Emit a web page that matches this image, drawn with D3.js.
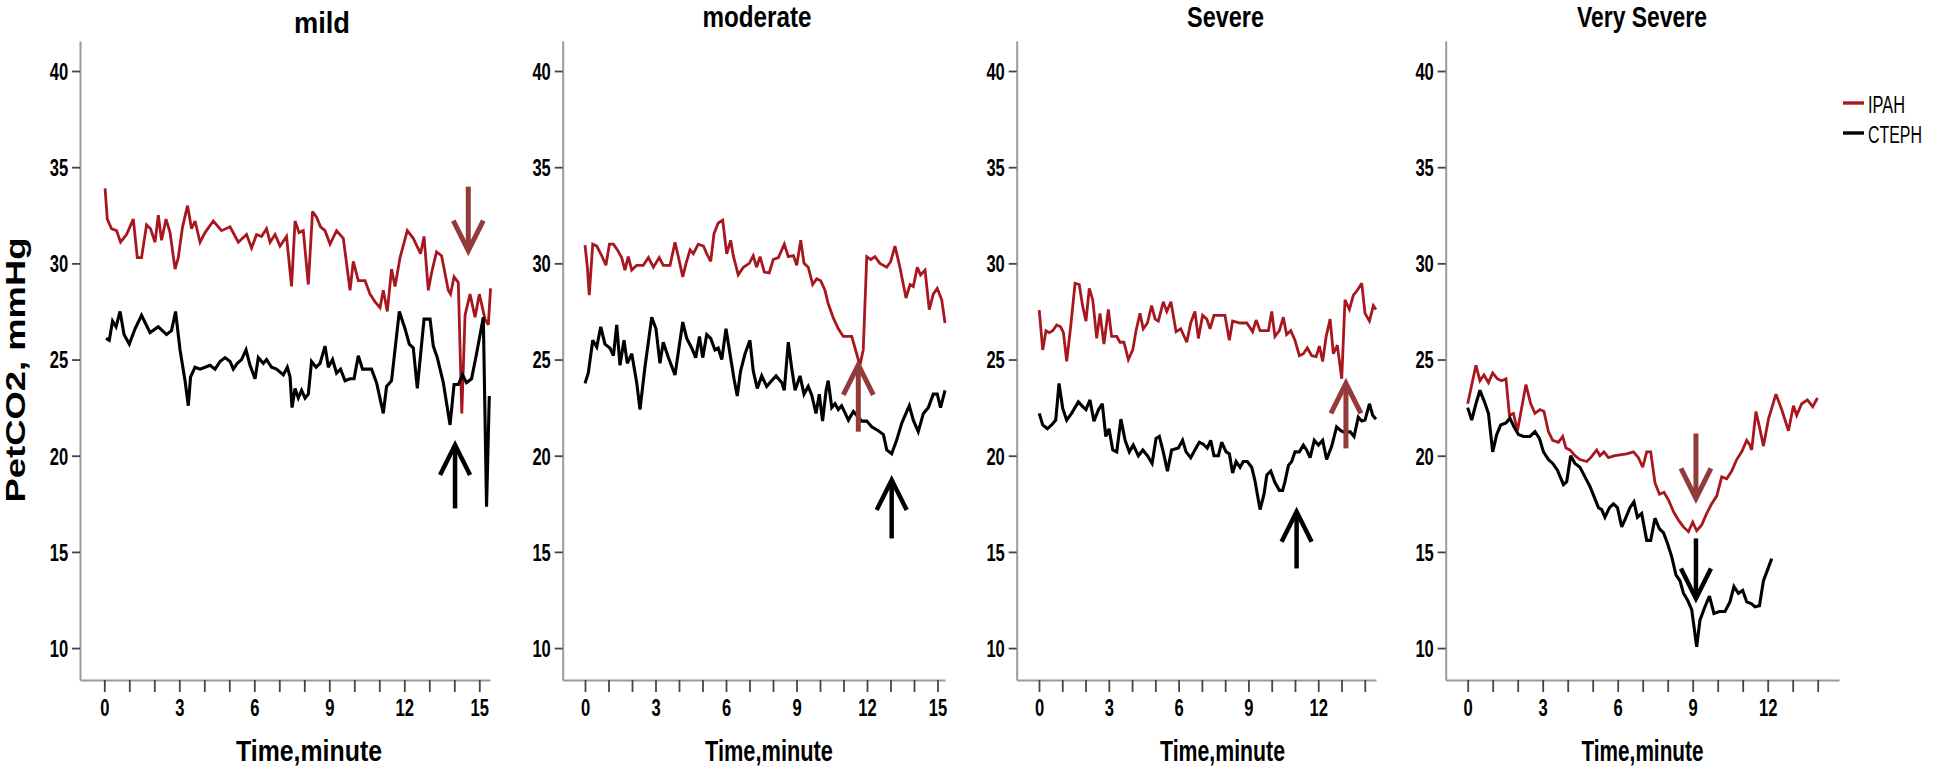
<!DOCTYPE html>
<html><head><meta charset="utf-8">
<script src="https://cdn.jsdelivr.net/npm/d3@7"></script>
<style>
body{margin:0;background:#fff}
svg{display:block;font-family:"Liberation Sans",Arial,sans-serif}
</style></head>
<body><svg id="c" width="1958" height="770"></svg>
<script>
// ---------------- data ----------------
const panelTitles = ["mild", "moderate", "Severe", "Very Severe"];
const seriesNames = ["IPAH", "CTEPH"];
const yTickValues = [10, 15, 20, 25, 30, 35, 40];
const xTickLabels = [[0,3,6,9,12,15],[0,3,6,9,12,15],[0,3,6,9,12],[0,3,6,9,12]];
const xMinorMax = [15, 15, 14, 14];

// [time (minute), PetCO2 (mmHg)]
const mildIPAH = [[0.03,33.9],[0.12,32.3],[0.29,31.8],[0.49,31.7],[0.65,31.1],[0.89,31.5],[1.16,32.3],[1.32,30.3],[1.49,30.3],[1.69,32.0],[1.85,31.8],[2.03,31.1],[2.16,32.5],[2.29,31.2],[2.47,32.3],[2.63,31.6],[2.83,29.7],[2.96,30.3],[3.13,31.9],[3.33,33.0],[3.49,31.8],[3.63,32.2],[3.83,31.1],[4.03,31.6],[4.36,32.2],[4.69,31.7],[5.03,31.9],[5.36,31.1],[5.69,31.5],[5.89,30.8],[6.09,31.5],[6.29,31.4],[6.49,31.8],[6.63,31.1],[6.83,31.5],[7.03,30.9],[7.29,31.4],[7.49,28.8],[7.63,32.2],[7.79,31.6],[7.96,31.7],[8.16,28.9],[8.33,32.7],[8.49,32.4],[8.65,31.9],[8.83,31.7],[9.03,31.0],[9.29,31.7],[9.56,31.3],[9.83,28.6],[9.96,30.1],[10.16,29.1],[10.43,29.1],[10.63,28.4],[10.83,28.0],[11.03,27.7],[11.16,28.6],[11.32,27.5],[11.49,29.7],[11.63,28.8],[11.83,30.3],[12.12,31.7],[12.36,31.3],[12.65,30.5],[12.79,31.4],[12.96,28.6],[13.09,29.5],[13.29,30.6],[13.49,30.4],[13.76,28.6],[13.85,28.4],[13.99,29.3],[14.16,29.0],[14.3,22.2],[14.43,27.3],[14.63,28.4],[14.83,27.2],[15.0,28.4],[15.23,27.1],[15.36,26.8],[15.45,28.7]];
const mildCTEPH = [[0.07,26.1],[0.2,26.0],[0.33,27.0],[0.47,26.7],[0.63,27.5],[0.79,26.3],[1.0,25.8],[1.23,26.6],[1.49,27.3],[1.83,26.4],[2.16,26.7],[2.49,26.3],[2.69,26.5],[2.85,27.5],[3.03,25.5],[3.23,23.9],[3.36,22.6],[3.45,24.1],[3.63,24.6],[3.83,24.5],[4.03,24.6],[4.23,24.7],[4.43,24.5],[4.63,24.9],[4.83,25.1],[5.03,24.9],[5.16,24.5],[5.32,24.8],[5.49,25.0],[5.67,25.5],[5.83,24.7],[6.03,24.0],[6.16,25.1],[6.36,24.8],[6.49,25.0],[6.69,24.6],[6.89,24.5],[7.16,24.2],[7.32,24.6],[7.43,24.1],[7.51,22.5],[7.63,23.5],[7.76,23.0],[7.89,23.4],[8.03,23.0],[8.16,23.2],[8.29,24.9],[8.47,24.6],[8.63,24.8],[8.83,25.7],[8.96,24.6],[9.13,25.0],[9.29,24.3],[9.45,24.5],[9.63,23.9],[9.83,24.0],[9.99,24.0],[10.16,25.2],[10.33,24.5],[10.49,24.5],[10.69,24.5],[10.89,23.8],[11.16,22.2],[11.29,23.6],[11.49,23.9],[11.8,27.5],[12.03,26.6],[12.2,25.8],[12.36,25.6],[12.52,23.5],[12.79,27.1],[13.03,27.1],[13.16,25.7],[13.32,25.1],[13.56,23.8],[13.83,21.6],[13.99,23.7],[14.16,23.7],[14.33,24.2],[14.49,23.8],[14.69,24.0],[14.89,25.3],[15.16,27.2],[15.29,17.35],[15.4,23.1]];
const moderateIPAH = [[0.0,30.95],[0.1,29.8],[0.18,28.35],[0.33,31.0],[0.5,30.9],[0.71,30.4],[0.89,29.9],[1.04,31.0],[1.21,31.0],[1.38,30.7],[1.56,30.3],[1.7,29.65],[1.84,30.35],[1.99,29.65],[2.2,29.9],[2.48,29.9],[2.7,30.3],[2.91,29.8],[3.16,30.3],[3.33,29.9],[3.62,29.9],[3.83,31.1],[3.97,30.35],[4.16,29.3],[4.3,30.0],[4.47,30.7],[4.61,30.5],[4.82,31.0],[5.04,30.9],[5.18,30.5],[5.35,30.1],[5.49,31.55],[5.67,32.1],[5.86,32.25],[6.03,30.5],[6.2,31.2],[6.31,30.4],[6.52,29.4],[6.74,29.8],[6.99,30.0],[7.16,30.4],[7.3,29.8],[7.45,30.35],[7.63,29.55],[7.84,29.5],[8.01,30.2],[8.23,30.3],[8.48,31.0],[8.65,30.35],[8.87,30.4],[9.01,29.9],[9.18,31.2],[9.32,30.0],[9.5,29.8],[9.69,28.9],[9.86,29.2],[10.03,29.1],[10.21,28.6],[10.35,27.9],[10.57,27.15],[10.78,26.6],[10.99,26.2],[11.35,26.2],[11.49,25.6],[11.7,24.7],[11.84,25.5],[11.99,30.35],[12.16,30.2],[12.34,30.35],[12.55,30.0],[12.84,29.8],[13.01,30.1],[13.19,30.9],[13.4,29.8],[13.66,28.2],[13.83,28.9],[13.97,28.8],[14.14,29.8],[14.28,29.4],[14.47,29.65],[14.65,27.6],[14.82,28.4],[14.99,28.7],[15.18,28.1],[15.32,26.9]];
const moderateCTEPH = [[0.0,23.76],[0.14,24.3],[0.33,26.0],[0.5,25.65],[0.67,26.7],[0.85,25.8],[1.06,25.6],[1.21,25.2],[1.35,26.8],[1.49,24.7],[1.66,26.0],[1.8,24.8],[1.99,25.3],[2.2,23.8],[2.34,22.4],[2.55,24.6],[2.84,27.2],[3.02,26.6],[3.19,24.8],[3.33,25.9],[3.55,25.1],[3.83,24.2],[4.16,26.95],[4.33,26.1],[4.54,25.6],[4.71,25.1],[4.87,26.2],[5.01,25.1],[5.18,26.3],[5.35,26.1],[5.53,25.5],[5.67,25.6],[5.82,25.0],[6.0,26.6],[6.17,25.3],[6.34,24.0],[6.48,23.1],[6.62,24.4],[6.81,25.3],[7.02,26.0],[7.16,24.4],[7.33,23.5],[7.52,24.15],[7.73,23.6],[7.94,23.9],[8.13,24.15],[8.37,23.8],[8.48,23.4],[8.65,25.9],[8.79,24.6],[8.94,23.4],[9.15,24.15],[9.32,23.2],[9.5,23.6],[9.65,23.15],[9.83,22.2],[9.97,23.2],[10.11,21.8],[10.26,23.4],[10.35,23.9],[10.5,22.5],[10.64,22.7],[10.78,22.4],[10.92,22.6],[11.21,21.85],[11.42,22.3],[11.77,21.8],[11.99,21.8],[12.2,21.5],[12.48,21.3],[12.7,21.1],[12.84,20.3],[13.05,20.1],[13.26,20.8],[13.48,21.7],[13.8,22.6],[13.97,21.85],[14.18,21.25],[14.4,22.2],[14.61,22.5],[14.82,23.2],[14.99,23.2],[15.13,22.5],[15.32,23.4]];
const severeIPAH = [[0.01,27.57],[0.16,25.5],[0.3,26.5],[0.44,26.4],[0.59,26.5],[0.76,26.8],[0.93,26.7],[1.05,26.4],[1.19,24.9],[1.36,26.7],[1.55,28.96],[1.73,28.9],[1.88,27.75],[2.02,27.0],[2.16,28.7],[2.31,28.1],[2.48,26.1],[2.62,27.4],[2.79,25.8],[2.98,27.6],[3.12,26.2],[3.34,26.2],[3.48,25.9],[3.65,25.9],[3.84,25.0],[4.03,25.5],[4.17,26.5],[4.34,27.4],[4.48,26.6],[4.66,26.9],[4.84,27.8],[4.99,27.1],[5.13,27.0],[5.34,28.0],[5.49,27.5],[5.67,28.0],[5.89,26.45],[6.09,26.6],[6.35,25.9],[6.52,26.9],[6.7,27.5],[6.85,26.1],[7.03,27.3],[7.21,27.1],[7.35,26.6],[7.52,27.3],[7.99,27.3],[8.18,26.0],[8.32,27.0],[8.64,26.9],[8.93,26.9],[9.18,26.45],[9.33,27.05],[9.5,26.5],[9.86,26.5],[10.0,27.5],[10.14,26.2],[10.33,26.5],[10.5,27.2],[10.64,26.3],[10.82,26.5],[11.0,26.0],[11.19,25.2],[11.36,25.3],[11.53,25.6],[11.72,25.2],[11.91,25.15],[12.05,25.7],[12.19,24.9],[12.34,26.2],[12.51,27.1],[12.65,25.3],[12.82,25.75],[13.01,24.0],[13.15,28.1],[13.34,27.6],[13.51,28.35],[13.68,28.6],[13.87,28.96],[14.01,27.4],[14.2,27.0],[14.37,27.8],[14.48,27.6]];
const severeCTEPH = [[0.01,22.2],[0.16,21.6],[0.36,21.4],[0.54,21.6],[0.72,21.85],[0.86,23.76],[1.02,22.46],[1.19,21.85],[1.4,22.2],[1.69,22.8],[1.88,22.55],[2.02,22.4],[2.19,22.9],[2.36,21.8],[2.56,22.4],[2.72,22.7],[2.87,21.0],[3.01,21.4],[3.17,20.3],[3.34,20.2],[3.52,21.9],[3.7,20.8],[3.88,20.2],[4.05,20.55],[4.27,20.0],[4.46,20.3],[4.66,20.0],[4.86,19.6],[5.03,20.9],[5.17,21.0],[5.34,20.2],[5.52,19.2],[5.7,20.3],[5.99,20.4],[6.17,20.8],[6.32,20.2],[6.52,19.9],[6.7,20.3],[6.89,20.7],[7.06,20.6],[7.23,20.4],[7.38,20.8],[7.52,20.0],[7.71,20.0],[7.85,20.7],[8.04,20.2],[8.18,20.1],[8.32,19.1],[8.47,19.7],[8.64,19.4],[8.78,19.7],[8.95,19.7],[9.14,19.4],[9.28,18.7],[9.5,17.2],[9.67,18.0],[9.79,19.0],[9.96,19.2],[10.14,18.6],[10.33,18.2],[10.47,18.2],[10.57,18.65],[10.72,19.5],[10.86,19.7],[11.0,20.2],[11.19,20.2],[11.36,20.55],[11.5,20.3],[11.65,19.9],[11.83,20.8],[12.01,20.55],[12.19,20.8],[12.36,19.8],[12.58,20.5],[12.79,21.5],[12.97,21.3],[13.15,21.2],[13.37,21.25],[13.54,21.0],[13.72,22.0],[13.87,21.8],[14.01,21.85],[14.2,22.7],[14.34,22.1],[14.48,21.9]];
const verySevereIPAH = [[0,22.7],[0.33,24.7],[0.49,23.9],[0.65,24.2],[0.83,23.8],[1.0,24.3],[1.19,24.0],[1.36,23.9],[1.53,24.0],[1.67,22.1],[1.83,22.2],[1.99,21.3],[2.33,23.7],[2.52,22.7],[2.69,22.2],[2.89,22.4],[3.05,22.3],[3.23,21.25],[3.4,20.8],[3.63,20.7],[3.8,21.0],[3.93,20.4],[4.09,20.3],[4.29,20.0],[4.49,19.8],[4.76,19.7],[4.92,19.9],[5.16,20.3],[5.29,20.0],[5.45,20.2],[5.63,19.9],[5.89,20.0],[6.36,20.1],[6.63,20.2],[6.83,19.9],[7.0,19.4],[7.16,20.2],[7.32,20.2],[7.49,18.6],[7.67,18.0],[7.85,18.1],[8.03,17.7],[8.23,17.1],[8.43,16.65],[8.63,16.3],[8.83,16.05],[9.0,16.55],[9.16,16.1],[9.36,16.4],[9.56,17.0],[9.76,17.5],[9.96,17.9],[10.16,18.9],[10.36,18.8],[10.56,19.2],[10.76,19.8],[10.96,20.2],[11.16,20.8],[11.27,20.6],[11.36,20.3],[11.53,22.3],[11.67,21.5],[11.83,20.5],[12.03,21.9],[12.33,23.2],[12.56,22.4],[12.83,21.3],[13.03,22.6],[13.16,22.1],[13.36,22.7],[13.59,22.9],[13.8,22.55],[13.99,23.0]];
const verySevereCTEPH = [[0,22.5],[0.16,21.85],[0.33,22.7],[0.49,23.4],[0.67,22.8],[0.83,22.2],[1.0,20.2],[1.16,21.1],[1.32,21.6],[1.53,21.7],[1.69,21.95],[1.85,21.5],[2.03,21.1],[2.23,21.0],[2.49,21.0],[2.69,21.25],[2.87,20.9],[3.03,20.2],[3.23,19.8],[3.4,19.6],[3.59,19.25],[3.83,18.5],[3.96,18.65],[4.12,20.0],[4.29,19.6],[4.49,19.4],[4.69,18.9],[4.89,18.4],[5.03,17.95],[5.23,17.3],[5.36,17.2],[5.49,16.8],[5.67,17.3],[5.83,17.5],[5.99,17.3],[6.16,16.3],[6.33,16.8],[6.49,17.3],[6.65,17.6],[6.79,16.8],[6.96,17.0],[7.16,15.6],[7.32,15.6],[7.49,16.75],[7.67,16.2],[7.83,16.0],[7.99,15.45],[8.16,14.75],[8.33,13.8],[8.49,13.5],[8.63,12.85],[8.79,12.5],[8.96,12.0],[9.16,10.07],[9.29,11.45],[9.49,12.15],[9.67,12.7],[9.85,11.8],[10.07,11.9],[10.29,11.9],[10.49,12.4],[10.65,13.2],[10.83,12.85],[11.0,13.0],[11.16,12.4],[11.36,12.3],[11.49,12.15],[11.67,12.2],[11.83,13.5],[11.96,13.95],[12.16,14.65]];

const ipahSeries = [mildIPAH, moderateIPAH, severeIPAH, verySevereIPAH];
const ctephSeries = [mildCTEPH, moderateCTEPH, severeCTEPH, verySevereCTEPH];

// annotation arrows: panel, time, start value, tip value, series index (0 IPAH, 1 CTEPH)
const arrowPanel = [0, 0, 1, 1, 2, 2, 3, 3];
const arrowTime  = [14.56, 14.03, 11.63, 13.05, 13.19, 11.07, 9.13, 9.13];
const arrowFrom  = [33.99, 17.26, 21.25, 15.7, 20.38, 14.14, 21.16, 15.7];
const arrowTo    = [30.66, 20.56, 24.72, 18.74, 23.76, 17.09, 17.78, 12.58];
const arrowSeries= [0, 1, 0, 1, 0, 1, 0, 1];

// ---------------- layout / style ----------------
const lineColors = ["#a8161e", "#000000"];
const arrowColors = ["#933a3a", "#000000"];
const layout = [
  {l:80,    r:490,  x0:104.3,  ppm:25,    tx:322,    ty:33, tw:56,  lx:309,    lw:146},
  {l:562.7, r:945,  x0:585,    ppm:23.5,  tx:757,    ty:27, tw:109, lx:769,    lw:128},
  {l:1016.7,r:1376, x0:1039,   ppm:23.27, tx:1225.5, ty:27, tw:77,  lx:1222.5, lw:125},
  {l:1445.7,r:1839, x0:1467.7, ppm:25,    tx:1642,   ty:27, tw:130, lx:1642.5, lw:122}
];
const plotTop = 41, plotBottom = 680;
const tickFont = '"Liberation Sans",Arial,sans-serif';

const svg = d3.select("#c");
const y = d3.scaleLinear().domain([8.34, 41.56]).range([plotBottom, plotTop]);

function squeeze(textSel, cx, cy, width, sy) {
  const len = textSel.node().getComputedTextLength();
  textSel.attr("transform", `translate(${cx},${cy}) scale(${width/len},${sy||1})`);
}

layout.forEach((L, i) => {
  const x = d3.scaleLinear()
    .domain([(L.l - L.x0)/L.ppm, (L.r - L.x0)/L.ppm])
    .range([L.l, L.r]);
  const g = svg.append("g");

  // y axis
  const ya = g.append("g").attr("transform", `translate(${L.l},0)`)
    .call(d3.axisLeft(y).tickValues(yTickValues).tickSize(8).tickSizeOuter(0).tickPadding(6));
  ya.select(".domain").attr("stroke", "#9a9a9a").attr("stroke-width", 2);
  ya.selectAll(".tick line").attr("stroke", "#444").attr("stroke-width", 1.8);
  ya.selectAll(".tick text").attr("font-size", 23).attr("fill", "#000").attr("font-weight", "bold")
    .attr("font-family", tickFont)
    .attr("transform", "scale(0.72,1)").attr("x", -16.5).attr("dy", "0.36em");

  // x axis
  const labs = xTickLabels[i];
  const xa = g.append("g").attr("transform", `translate(0,${plotBottom})`)
    .call(d3.axisBottom(x).tickValues(d3.range(0, xMinorMax[i] + 1)).tickSize(12).tickSizeOuter(0)
      .tickPadding(8).tickFormat(d => labs.includes(d) ? d : ""));
  xa.select(".domain").attr("stroke", "#9a9a9a").attr("stroke-width", 2);
  xa.selectAll(".tick line").attr("stroke", "#444").attr("stroke-width", 1.8);
  xa.selectAll(".tick text").attr("font-size", 23).attr("fill", "#000").attr("font-weight", "bold")
    .attr("font-family", tickFont)
    .attr("transform", "scale(0.72,1)");

  // lines
  const line = d3.line().x(d => x(d[0])).y(d => y(d[1]));
  [ipahSeries[i], ctephSeries[i]].forEach((s, k) => {
    g.append("path").attr("d", line(s)).attr("fill", "none")
      .attr("stroke", lineColors[k]).attr("stroke-width", k === 0 ? 2.8 : 3.1)
      .attr("stroke-linejoin", "miter").attr("stroke-miterlimit", 3);
  });

  // arrows
  arrowPanel.forEach((p, a) => {
    if (p !== i) return;
    const ax = x(arrowTime[a]), y0 = y(arrowFrom[a]), y1 = y(arrowTo[a]);
    const dir = y1 < y0 ? 1 : -1;
    const col = arrowColors[arrowSeries[a]];
    const sw = arrowSeries[a] === 0 ? 5 : 4.5;
    g.append("line").attr("x1", ax).attr("x2", ax).attr("y1", y0).attr("y2", y1 + dir*2)
      .attr("stroke", col).attr("stroke-width", sw);
    g.append("path")
      .attr("d", `M${ax-15},${y1 + dir*30} L${ax},${y1} L${ax+15},${y1 + dir*30}`)
      .attr("fill", "none").attr("stroke", col).attr("stroke-width", sw)
      .attr("stroke-linejoin", "miter");
  });

  // title
  const t = g.append("text").attr("text-anchor", "middle").attr("font-size", 30)
    .attr("font-weight", "bold").attr("fill", "#000").text(panelTitles[i]);
  squeeze(t, L.tx, L.ty, L.tw);

  // x label
  const xl = g.append("text").attr("text-anchor", "middle").attr("font-size", 30)
    .attr("font-weight", "bold").attr("fill", "#000").text("Time,minute");
  squeeze(xl, L.lx, 761, L.lw);
});

// y label
const yl = svg.append("text").attr("text-anchor", "middle").attr("font-size", 36)
  .attr("font-weight", "bold").attr("fill", "#000").text("PetCO2, mmHg");
{
  const len = yl.node().getComputedTextLength();
  yl.attr("transform", `translate(25,370) rotate(-90) scale(${265/len},0.78)`);
}

// legend
const legY = [103, 133];
const legW = [37, 54];
seriesNames.forEach((n, k) => {
  svg.append("line").attr("x1", 1843).attr("x2", 1864).attr("y1", legY[k]).attr("y2", legY[k])
    .attr("stroke", lineColors[k]).attr("stroke-width", 3.4);
  const tx = svg.append("text").attr("font-size", 24).attr("fill", "#000").text(n);
  const len = tx.node().getComputedTextLength();
  tx.attr("transform", `translate(1868,${legY[k] + 10}) scale(${legW[k]/len},1)`);
});
</script>
</body></html>
